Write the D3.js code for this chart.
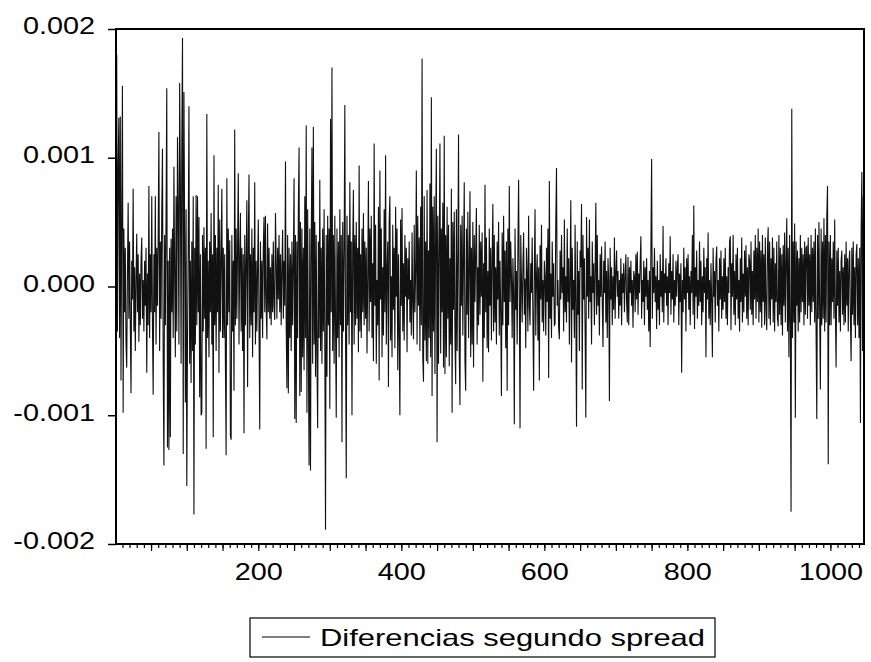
<!DOCTYPE html>
<html lang="es">
<head>
<meta charset="UTF-8">
<title>Diferencias segundo spread</title>
<script src="https://d3js.org/d3.v7.min.js"></script>
<style>
  body { margin: 0; background: #fff; }
  svg { display: block; }
  text { font-family: "Liberation Sans", Arial, sans-serif; fill: #000; }
</style>
</head>
<body>
<svg id="chart" width="871" height="662"></svg>
<script>
// serie: segunda diferencia del spread, en unidades de 1e-5
const UNIT = 1e-5;
const spreadDiff = [
  40, 180, -35, 95, 131, -40, 132, -73, 60, 156,
  -98, 45, -20, 30, -45, -63, 10, 65, -25, 35,
  -30, -83, 20, -10, 76, -35, 15, -50, 5, 41,
  -20, 25, -43, 10, -30, 20, 38, -25, 5, -35,
  20, -15, 30, -67, 10, -30, 78, -40, 25, -20,
  70, -30, -84, 25, -20, 70, -45, 30, -15, 40,
  120, -50, 35, -25, 60, 107, -60, -139, 40, -30,
  55, 154, -125, 20, -127, 30, -117, 37, -20, 45,
  -40, 93, 10, -55, 70, -35, 116, 60, -45, 158,
  85, -60, 110, 193, -130, 151, 40, -90, 60, -155,
  -40, 30, 140, -60, 20, -75, 35, -50, 70, -177,
  30, -45, 71, -30, 70, -20, 54, -86, 25, -100,
  -98, 40, -35, 46, -25, 30, -126, 134, -40, 20,
  -55, 35, -20, 57, -45, 25, -117, 102, -30, 40,
  -50, 30, -20, 79, -67, 52, -35, 20, 76, -40,
  30, -40, 25, -60, -131, 84, -30, 45, -20, 36,
  -116, -119, 40, -35, 20, -81, 122, -30, 45, -25,
  30, 88, -45, 20, 57, -35, 30, -50, 25, -114,
  40, -30, 20, 67, -78, 35, 87, -40, 25, -30,
  45, -55, 30, -20, 81, -45, 20, -35, 15, 52,
  -30, -111, 35, -25, 20, -40, 30, 54, -20, 55,
  -15, -41, 49, -20, 30, -25, 15, -30, 25, -20,
  35, -15, -26, 57, 20, -25, 30, -10, 40, -20,
  25, -30, 15, 44, -25, 20, -15, 97, -30, -79,
  40, -83, 30, -40, 25, -50, 35, -30, 20, 84,
  -103, 40, -106, 35, -40, 60, 108, -85, 50, -82,
  45, -55, 30, -65, 70, -40, 125, -98, 60, -50,
  -139, 45, -143, 30, 108, -60, 124, -45, 50, -70,
  40, -55, -110, 35, -40, 83, -50, 30, -60, 45,
  -35, 60, -45, -189, 40, -70, 55, -30, 45, -95,
  130, -20, 170, -50, 40, -60, 55, -30, -102, 45,
  -40, 35, -55, 60, -30, 40, -121, 50, -35, 25,
  141, -40, -149, 55, -30, 40, -45, 81, -20, 35,
  -100, 30, 75, -45, 40, -30, 50, -25, 30, -51,
  94, -35, 25, -40, 45, -20, 57, -30, 35, -25,
  30, -52, 8, 82, -35, 45, -12, 55, -40, 18,
  -58, 111, -15, 48, -60, 5, -30, 62, -73, 90,
  -10, 45, -55, 15, -38, 60, -20, 102, -45, 12,
  35, -78, 50, 70, -42, 8, -55, 48, -18, 30,
  -48, 62, -8, 45, -65, 25, -40, -100, 52, -15,
  61, -35, 18, -42, 40, -8, 30, -51, 22, -10,
  35, -28, 5, -38, 42, -15, -41, 48, -20, 12,
  90, -45, 55, -15, 38, -50, 62, -30, 177, -55,
  -74, 70, -42, 35, -58, 75, -60, 28, -40, 80,
  -55, 147, -85, 62, -35, 70, -68, 45, 107, -121,
  55, -60, 28, 111, -52, 45, -20, 65, -63, 117,
  -68, 40, -55, 62, -25, 48, -62, 22, -45, 76,
  -98, 50, -18, 58, -40, -76, 60, -50, 20, 118,
  -52, -92, 48, -15, 55, -38, 25, 81, -58, -81,
  45, -22, 58, -40, 15, 74, -55, 30, -45, 50,
  -63, 40, -12, 28, 61, -45, 15, -30, 48, -22,
  35, -8, 42, -74, 18, -40, 79, -20, 38, -48,
  12, -51, 45, -15, 30, -42, 22, 64, -35, 40,
  -28, 15, -45, 35, -10, 50, -38, 20, -22, -85,
  42, -30, 55, -12, 28, -48, 35, -81, 45, -30,
  78, -12, 35, 8, -40, 22, -5, -107, 45, -18,
  12, -45, 28, 83, -8, -110, 40, 5, -28, 15,
  42, -22, 6, -48, 30, 10, -35, 55, -15, -30,
  18, -5, 38, -25, -81, 12, 60, -38, 8, 25,
  -42, 15, -73, 32, -10, 48, -28, 5, -35, 20,
  8, -38, 30, -12, 45, -71, 82, -25, 10, -40,
  35, -8, 18, -30, -29, 50, 92, -15, 5, -32,
  -41, 28, -10, 40, -5, 15, -35, 52, -20, 8,
  -28, 45, -12, 22, -45, 10, 67, -59, 30, -18,
  5, -40, 48, -15, -109, 35, -22, 12, -50, 28,
  15, 64, -80, 40, -10, 22, -35, -102, 54, -8,
  30, -25, 52, -12, 8, -45, 35, -5, 18, -30,
  10, 65, -22, 40, -15, 5, -38, 25, -8, 31,
  -12, -47, 20, -5, 35, -28, 12, -40, 22, 5,
  -89, 30, -10, 15, -30, 8, -18, 38, -25, 12,
  28, -8, 12, -25, 5, -15, 22, -30, 10, -5,
  18, -20, 8, 25, -12, -28, 23, -30, 15, -5,
  20, -15, 5, -32, 12, 8, -20, 25, -10, 27,
  -22, 10, -5, 18, 39, -25, 5, -12, 20, -30,
  15, -8, 22, -18, 5, -35, 12, -47, 30, 99,
  -25, 15, -5, 30, -12, 8, -33, 20, -18, 5,
  -30, 25, -8, 12, -20, 47, -28, 10, -5, 22,
  -15, 8, -30, 18, -5, 39, -22, 12, -10, 25,
  -28, 5, -15, 20, -8, 15, 25, -30, 10, -12,
  18, -67, 5, -20, 30, -10, 15, -35, 22, -5,
  25, -18, 8, -30, 12, -5, 40, -22, 63, -33,
  15, -8, 28, -25, 5, -15, 35, -12, 20, -30,
  8, -20, 30, -5, 15, -55, 22, -10, 42, -25,
  5, -30, 18, -12, -55, 30, -8, 12, -28, 20,
  31, -15, 5, -35, 22, -10, 28, -25, 8, -18,
  22, -12, 30, -25, 8, -30, 15, -5, 35, 39,
  -34, 18, -8, 40, -22, 12, -30, 25, -10, 30,
  -25, 5, -35, 22, -12, 38, -28, 10, -20, 28,
  -8, 32, -25, 15, -30, 25, 20, -18, 35, -22,
  12, -30, 28, -10, 40, -25, 30, -12, 45, -28,
  35, -20, 28, -32, 40, -12, 25, -30, 38, -18,
  -34, 30, 46, -25, 35, -30, 22, -10, 38, -28,
  30, -35, 18, -12, 35, -25, -31, 40, -22, 30,
  -30, 25, -38, 32, -15, 42, -28, 20, 53, -35,
  30, -55, 40, -30, -175, 138, -40, 35, -28, 49,
  -102, 35, -15, 28, -35, 22, -28, 40, -20, 30,
  -12, 25, -30, 35, -22, 30, 31, -25, 38, -15,
  25, -30, 40, -20, 30, -12, 35, -28, 45, -35,
  -103, 40, -25, 50, -20, -80, 45, -30, 35, -25,
  53, -35, 40, -28, 55, 78, -138, 35, -30, 40,
  -30, 22, -12, 35, -25, 52, -20, -63, 28, -15,
  30, -28, 12, -35, 20, 28, -22, 15, -30, 25,
  -28, 35, -15, 22, -35, 18, 28, -25, -58, 30,
  -22, 35, -30, 15, -40, 25, 33, -30, 22, -40,
  30, -106, 45, 89, -50, 70, -60
];
const yTickValues = [-0.002, -0.001, 0, 0.001, 0.002];
const xTickLabels = [200, 400, 600, 800, 1000];
const seriesName = "Diferencias segundo spread";

const svg = d3.select("#chart");
const plotLeft = 116, plotRight = 864, plotTop = 29, plotBottom = 544;

const x = d3.scaleLinear().domain([1, spreadDiff.length]).range([plotLeft, plotRight]);
const y = d3.scaleLinear().domain([-0.002, 0.002]).range([plotBottom, plotTop]);

// serie
const line = d3.line()
  .x((d, i) => x(i + 1))
  .y(d => y(d * UNIT));

svg.append("path")
  .datum(spreadDiff)
  .attr("fill", "none")
  .attr("stroke", "#111")
  .attr("stroke-width", 1.1)
  .attr("d", line);

// eje y
const yAxis = svg.append("g")
  .attr("transform", `translate(${plotLeft},0)`)
  .call(d3.axisLeft(y).tickValues(yTickValues).tickSize(8).tickPadding(9.5)
    .tickFormat(d => d.toFixed(3)));
yAxis.select(".domain").remove();
yAxis.selectAll("line").attr("stroke", "#000").attr("stroke-width", 1.5);
yAxis.selectAll("text")
  .attr("font-size", 24)
  .attr("dy", "0.2em")
  .attr("transform", "scale(1.2,1)");

// eje x: marcas menores cada 10, mayores cada 50
const xMinor = svg.append("g")
  .attr("transform", `translate(0,${plotBottom})`)
  .call(d3.axisBottom(x).tickValues(d3.range(10, spreadDiff.length, 10)).tickSize(4).tickFormat(""));
xMinor.select(".domain").remove();
xMinor.selectAll("line").attr("stroke", "#000").attr("stroke-width", 1.2);

const xMajor = svg.append("g")
  .attr("transform", `translate(0,${plotBottom})`)
  .call(d3.axisBottom(x).tickValues(d3.range(50, spreadDiff.length, 50)).tickSize(7)
    .tickFormat(d => xTickLabels.includes(d) ? d : ""));
xMajor.select(".domain").remove();
xMajor.selectAll("line").attr("stroke", "#000").attr("stroke-width", 1.2);
xMajor.selectAll("text")
  .attr("font-size", 24)
  .attr("y", 36)
  .attr("dy", 0)
  .attr("transform", "scale(1.2,1)");

// marco
svg.append("rect")
  .attr("x", plotLeft).attr("y", plotTop)
  .attr("width", plotRight - plotLeft).attr("height", plotBottom - plotTop)
  .attr("fill", "none")
  .attr("stroke", "#000")
  .attr("stroke-width", 2);

// leyenda
const legend = svg.append("g");
legend.append("rect")
  .attr("x", 250).attr("y", 618)
  .attr("width", 465).attr("height", 39)
  .attr("fill", "none").attr("stroke", "#000").attr("stroke-width", 1.2);
legend.append("line")
  .attr("x1", 262).attr("x2", 310)
  .attr("y1", 637).attr("y2", 637)
  .attr("stroke", "#000").attr("stroke-width", 1.2);
legend.append("text")
  .attr("x", 320).attr("y", 646)
  .attr("font-size", 24)
  .attr("textLength", 385)
  .attr("lengthAdjust", "spacingAndGlyphs")
  .text(seriesName);
</script>
</body>
</html>
